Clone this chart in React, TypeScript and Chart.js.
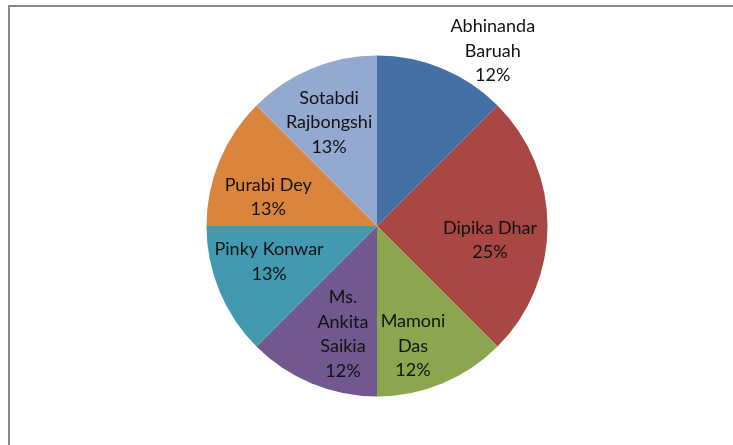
import React, { useEffect, useRef } from 'react';
import { Chart, registerables } from 'chart.js';

Chart.register(...registerables);

const names = ['Abhinanda Baruah', 'Dipika Dhar', 'Mamoni Das', 'Ms. Ankita Saikia', 'Pinky Konwar', 'Purabi Dey', 'Sotabdi Rajbongshi'];
const nameLines = [['Abhinanda', 'Baruah'], ['Dipika Dhar'], ['Mamoni', 'Das'], ['Ms.', 'Ankita', 'Saikia'], ['Pinky Konwar'], ['Purabi Dey'], ['Sotabdi', 'Rajbongshi']];
const values = [1, 2, 1, 1, 1, 1, 1];
const percentLabels = ['12%', '25%', '12%', '12%', '13%', '13%', '13%'];
const colors = ['#4470A5', '#A84744', '#8AA64F', '#71588F', '#4399AF', '#DB843D', '#93A9CF'];

// label placement: fraction of radius and angle (deg, clockwise from top)
const labelRadius = [1.23, 0.668, 0.735, 0.664, 0.667, 0.66, 0.67];
const labelAngle = [33.5, 97.1, 163.3, 197.5, 251.6, 284.9, 335.2];

const framePlugin = {
  id: 'frame',
  beforeDraw(chart: any) {
    const ctx = chart.ctx;
    ctx.save();
    ctx.fillStyle = '#fff';
    ctx.fillRect(0, 0, chart.width, chart.height);
    ctx.strokeStyle = '#888';
    ctx.lineWidth = 2;
    ctx.beginPath();
    ctx.moveTo(9, chart.height);
    ctx.lineTo(9, 6);
    ctx.lineTo(chart.width, 6);
    ctx.stroke();
    ctx.restore();
  },
};

const labelPlugin = {
  id: 'sliceLabels',
  afterDatasetsDraw(chart: any) {
    const meta = chart.getDatasetMeta(0);
    const arc = meta.data[0];
    if (!arc) return;
    const { x: cx, y: cy, outerRadius } = arc.getProps(['x', 'y', 'outerRadius'], true);
    const ctx = chart.ctx;
    ctx.save();
    ctx.font = '18px Lato';
    ctx.fillStyle = '#111';
    ctx.textAlign = 'center';
    ctx.textBaseline = 'middle';
    const lh = 24.5;
    nameLines.forEach((lines, i) => {
      const all = [...lines, percentLabels[i]];
      const a = ((labelAngle[i] - 90) * Math.PI) / 180;
      const x = cx + outerRadius * labelRadius[i] * Math.cos(a);
      const y = cy + outerRadius * labelRadius[i] * Math.sin(a);
      const top = y - ((all.length - 1) * lh) / 2;
      all.forEach((t, k) => ctx.fillText(t, x, top + k * lh));
    });
    ctx.restore();
  },
};

export default function App() {
  const ref = useRef<HTMLCanvasElement>(null);
  useEffect(() => {
    document.body.style.margin = '0';
    document.body.style.overflow = 'hidden';
    if (!ref.current) return;
    const chart = new Chart(ref.current, {
      type: 'pie',
      data: {
        labels: names,
        datasets: [{ data: values, backgroundColor: colors, borderWidth: 0 }],
      },
      options: {
        animation: false,
        responsive: false,
        layout: { padding: { left: 206.5, top: 55.5, right: 185.5, bottom: 48.5 } },
        plugins: { legend: { display: false }, tooltip: { enabled: false } },
      },
      plugins: [framePlugin, labelPlugin],
    });
    return () => chart.destroy();
  }, []);
  return (
    <div style={{ width: 733, height: 445 }}>
      <canvas ref={ref} width={733} height={445} style={{ display: 'block', width: 733, height: 445 }} />
    </div>
  );
}
